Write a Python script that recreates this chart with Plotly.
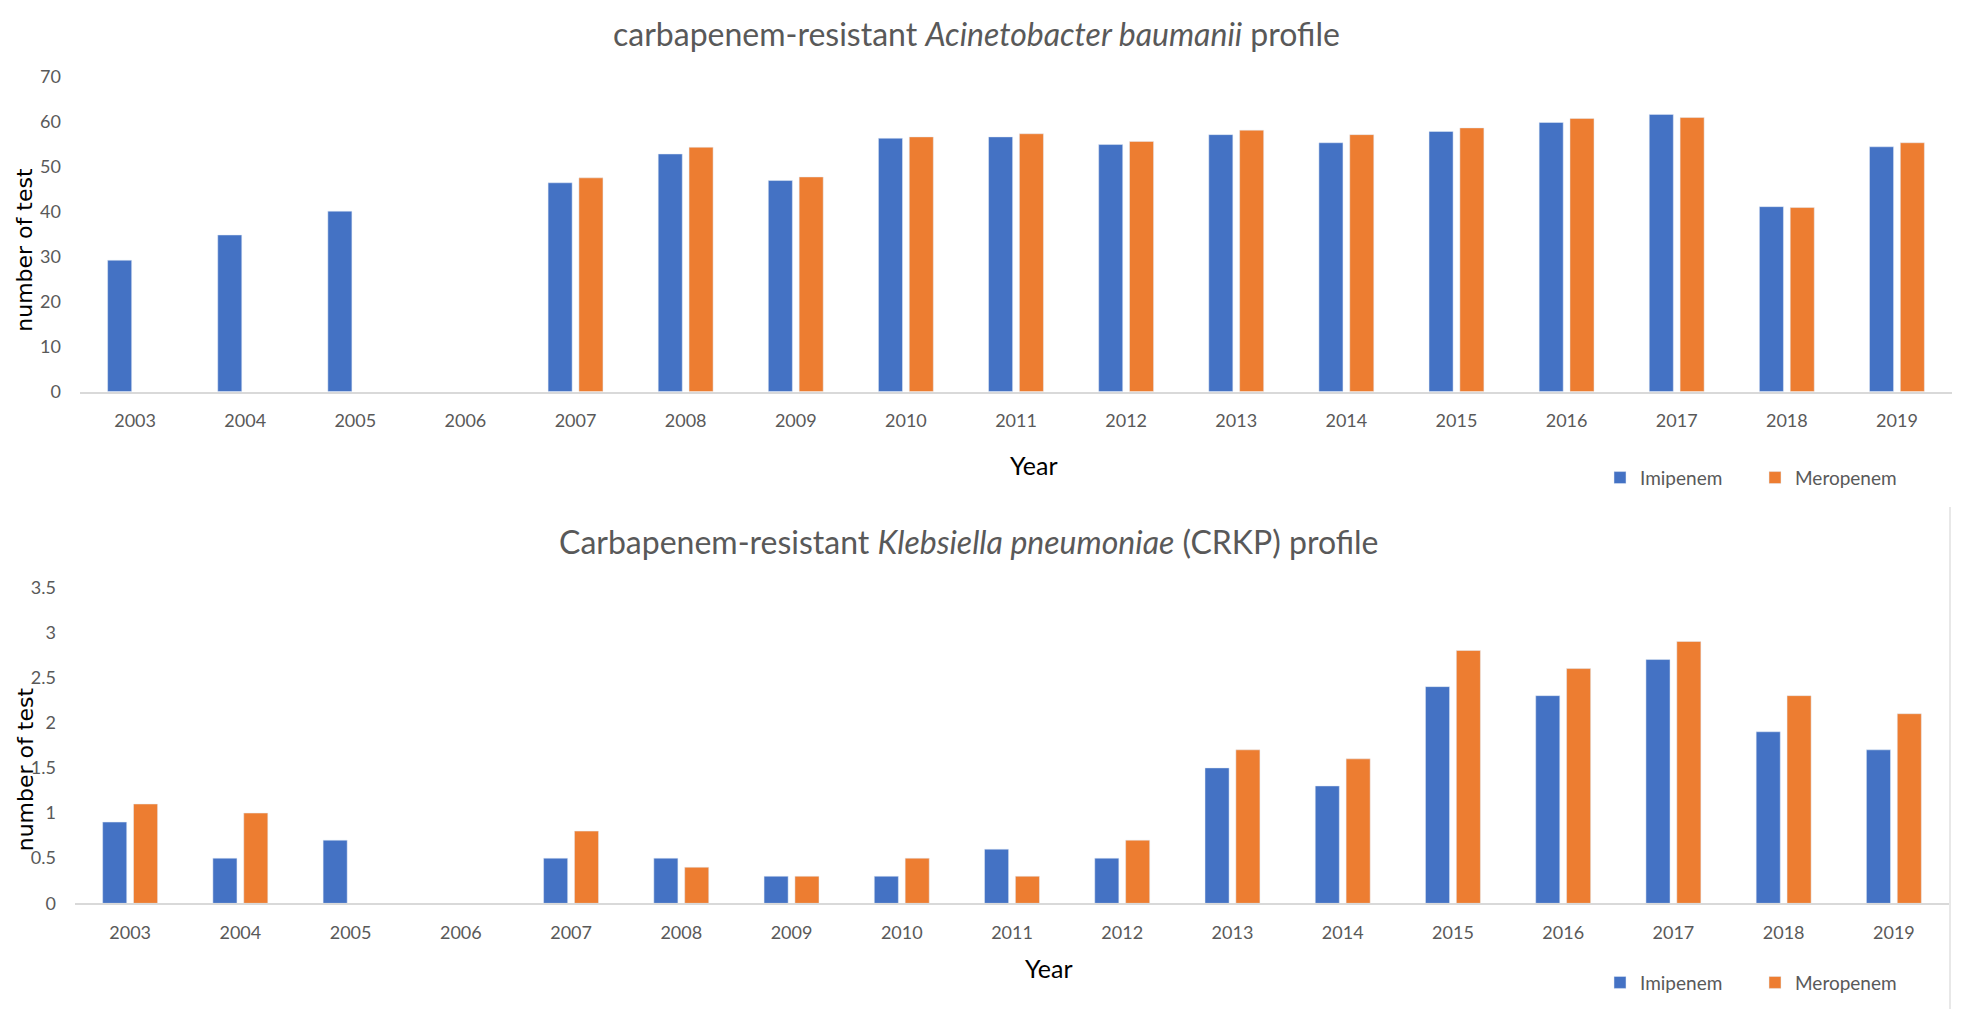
import plotly.graph_objects as go
from plotly.subplots import make_subplots

years = [str(y) for y in range(2003, 2020)]

# Acinetobacter baumanii
ab_imipenem = [29.2, 34.8, 40.1, None, 46.4, 52.8, 46.9, 56.3, 56.6, 54.9, 57.1, 55.3, 57.8, 59.8, 61.6, 41.1, 54.4]
ab_meropenem = [None, None, None, None, 47.5, 54.3, 47.7, 56.6, 57.3, 55.6, 58.1, 57.1, 58.6, 60.7, 60.9, 40.9, 55.3]

# Klebsiella pneumoniae (CRKP)
kp_imipenem = [0.9, 0.5, 0.7, None, 0.5, 0.5, 0.3, 0.3, 0.6, 0.5, 1.5, 1.3, 2.4, 2.3, 2.7, 1.9, 1.7]
kp_meropenem = [1.1, 1.0, None, None, 0.8, 0.4, 0.3, 0.5, 0.3, 0.7, 1.7, 1.6, 2.8, 2.6, 2.9, 2.3, 2.1]

BLUE = "#4472C4"
ORANGE = "#ED7D31"
FONT = "Lato, 'Open Sans', sans-serif"
GREY = "#595959"
W, H = 1962, 1019

fig = make_subplots(rows=2, cols=1)

fig.add_trace(go.Bar(x=years, y=ab_imipenem, name="Imipenem", marker_color=BLUE,
                     legend="legend"), row=1, col=1)
fig.add_trace(go.Bar(x=years, y=ab_meropenem, name="Meropenem", marker_color=ORANGE,
                     legend="legend"), row=1, col=1)
fig.add_trace(go.Bar(x=years, y=kp_imipenem, name="Imipenem", marker_color=BLUE,
                     legend="legend2"), row=2, col=1)
fig.add_trace(go.Bar(x=years, y=kp_meropenem, name="Meropenem", marker_color=ORANGE,
                     legend="legend2"), row=2, col=1)

fig.update_xaxes(type="category", showline=True, linecolor="#d9d9d9", linewidth=2,
                 showgrid=False, ticks="", tickfont=dict(size=18, color=GREY, family=FONT),
                 ticklabelstandoff=12, zeroline=False)
fig.update_yaxes(showgrid=False, showline=False, zeroline=False, ticks="",
                 tickfont=dict(size=18, color=GREY, family=FONT), ticklabelstandoff=18)

fig.update_layout(
    width=W, height=H,
    margin=dict(l=0, r=0, t=0, b=0),
    paper_bgcolor="white", plot_bgcolor="white",
    barmode="group", bargap=0.44, bargroupgap=0.22,
    font=dict(family=FONT, color=GREY),
    xaxis=dict(domain=[80 / W, 1952 / W], anchor="y"),
    yaxis=dict(domain=[1 - 388 / H, 1 - 66 / H], range=[0, 70], dtick=10, anchor="x"),
    xaxis2=dict(domain=[75 / W, 1949 / W], anchor="y2"),
    yaxis2=dict(domain=[1 - 911 / H, 1 - 588 / H], range=[0, 3.5], dtick=0.5, anchor="x2"),
    legend=dict(orientation="h", x=1600 / W, y=1 - 476 / H, xanchor="left", yanchor="middle",
                font=dict(size=19, color=GREY, family=FONT),
                entrywidth=110, entrywidthmode="pixels", bgcolor="rgba(0,0,0,0)"),
    legend2=dict(orientation="h", x=1600 / W, y=1 - 992 / H, xanchor="left", yanchor="middle",
                 font=dict(size=19, color=GREY, family=FONT),
                 entrywidth=110, entrywidthmode="pixels", bgcolor="rgba(0,0,0,0)"),
)

# titles
fig.add_annotation(text="carbapenem-resistant <i>Acinetobacter baumanii</i> profile",
                   x=976 / W, y=1 - 22 / H, xref="paper", yref="paper", showarrow=False,
                   xanchor="center", yanchor="middle",
                   font=dict(size=32, color=GREY, family=FONT))
fig.add_annotation(text="Carbapenem-resistant <i>Klebsiella pneumoniae</i> (CRKP) profile",
                   x=968 / W, y=1 - 541 / H, xref="paper", yref="paper", showarrow=False,
                   xanchor="center", yanchor="middle",
                   font=dict(size=32, color=GREY, family=FONT))

# axis titles
for ytxt in [243, 774]:
    fig.add_annotation(text="number of test", x=25 / W, y=1 - ytxt / H, xref="paper", yref="paper",
                       showarrow=False, textangle=-90, xanchor="center", yanchor="middle",
                       font=dict(size=22, color="black", family="'DejaVu Sans', Verdana, sans-serif"))
for xyear, yyear in [(1034, 463), (1049, 977)]:
    fig.add_annotation(text="Year", x=xyear / W, y=1 - yyear / H, xref="paper", yref="paper",
                       showarrow=False, xanchor="center", yanchor="middle",
                       font=dict(size=25, color="black", family=FONT))

# thin border line at right of lower panel
fig.add_shape(type="line", xref="paper", yref="paper", x0=1950 / W, x1=1950 / W,
              y0=0, y1=1 - 506 / H, line=dict(color="#e0e0e0", width=1.5))

fig.write_html("out.html", config={"displayModeBar": False},
               post_script="document.body.style.margin='0px';document.body.style.overflow='hidden';")
